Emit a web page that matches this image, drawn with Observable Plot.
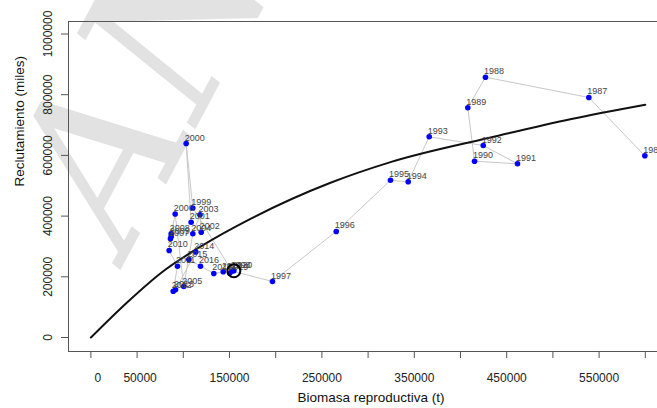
<!DOCTYPE html>
<html><head><meta charset="utf-8">
<script src="https://cdn.jsdelivr.net/npm/d3@7"></script>
<script src="https://cdn.jsdelivr.net/npm/@observablehq/plot@0.6"></script>
<style>
body{margin:0;background:#fff;}
#wrap{position:relative;width:657px;height:408px;overflow:hidden;font-family:"Liberation Sans",Arial,sans-serif;}
#wm{position:absolute;left:-25px;top:175px;font:italic 205px "DejaVu Serif",serif;color:#e2e2e2;transform:rotate(-62deg);transform-origin:left top;white-space:nowrap;line-height:1;}
#chart{position:absolute;left:0;top:0;}
</style></head><body><div id="wrap"><div id="wm">AN</div><div id="chart"></div></div>
<script>
const years = [1986,1987,1988,1989,1990,1991,1992,1993,1994,1995,1996,1997,1998,1999,2000,2001,2002,2003,2004,2005,2006,2007,2008,2009,2010,2011,2012,2013,2014,2015,2016,2017,2018,2019,2020];
const biomasa = [599500,538900,427000,407900,415200,461700,424600,366100,343400,324200,265500,196500,152700,110300,103100,108500,119400,118100,110300,100500,91200,86100,86900,86900,84700,93700,89100,91600,113500,106000,118600,133000,143200,150300,154700];
const reclutamiento = [598700,790800,857700,756800,580900,572300,632600,661300,513000,518000,349300,184500,219100,426700,639200,379900,347000,404300,341700,168000,406900,325200,341700,332800,286700,234900,152600,157200,281700,257000,234900,210900,216500,211900,219800];
const curveS = [0,40000,75500,120000,172700,259300,324200,439700,520000,600000];
const curveR = [0,118000,212000,302000,391000,510000,578000,664000,720000,767000];
const xTicks = [0,50000,100000,150000,200000,250000,300000,350000,400000,450000,500000,550000,600000];
const xTickLabels = [0,50000,150000,250000,350000,450000,550000];
const yTicks = [0,200000,400000,600000,800000,1000000];

const pts = years.map((y,i)=>({year:y,S:biomasa[i],R:reclutamiento[i]}));
const curve = curveS.map((s,i)=>({S:s,R:curveR[i]}));
const last = pts[pts.length-1];
const X0 = -24240, X1 = 613200, Y0 = -46100, Y1 = 1041200;
// small label nudges seen in the reference (in px)
const labelShift = {0:7, 50000:3};

const chart = Plot.plot({
  width:657, height:408, marginLeft:68, marginRight:0, marginTop:21, marginBottom:57,
  x:{domain:[X0,X1]}, y:{domain:[Y0,Y1]},
  style:{fontFamily:"Liberation Sans, Arial, sans-serif", background:"transparent", color:"#222"},
  marks:[
    Plot.ruleX([X0],{stroke:"#555"}),
    Plot.ruleY([Y0,Y1],{stroke:"#555"}),
    Plot.axisX(xTicks,{tickSize:7, stroke:"#555", label:null, tickFormat:()=>""}),
    ...xTickLabels.map(v=>Plot.text([v],{x:d=>d, text:d=>String(d), frameAnchor:"bottom", dy:27, dx:labelShift[v]||0, fontSize:12, fill:"#222", lineAnchor:"middle"})),
    Plot.axisY(yTicks,{tickSize:7, tickFormat:()=>"", stroke:"#555", label:null}),
    Plot.text(yTicks,{y:d=>d, text:d=>String(d), frameAnchor:"left", dx:-20, rotate:-90, fontSize:12, fill:"#222", textAnchor:"middle", lineAnchor:"middle"}),
    Plot.text(["Biomasa reproductiva (t)"],{frameAnchor:"bottom", dx:8, dy:46, fontSize:13.5, fill:"#111", lineAnchor:"middle"}),
    Plot.text(["Reclutamiento (miles)"],{frameAnchor:"left", dx:-49, rotate:-90, fontSize:13.5, fill:"#111", lineAnchor:"middle"}),
    Plot.line(pts,{x:"S",y:"R",stroke:"#c8c8c8",strokeWidth:1}),
    Plot.line(curve,{x:"S",y:"R",stroke:"#111",strokeWidth:2,curve:"monotone-x"}),
    Plot.dot(pts,{x:"S",y:"R",r:2.8,fill:"#0000ff",stroke:"none"}),
    Plot.text(pts,{x:"S",y:"R",text:d=>String(d.year),textAnchor:"start",lineAnchor:"bottom",dx:-1.5,dy:-3,fontSize:9,fill:"#444"}),
    Plot.dot([last],{x:"S",y:"R",r:6.5,stroke:"#000",strokeWidth:2,fill:"none"})
  ]
});
document.getElementById("chart").append(chart);
</script></body></html>
